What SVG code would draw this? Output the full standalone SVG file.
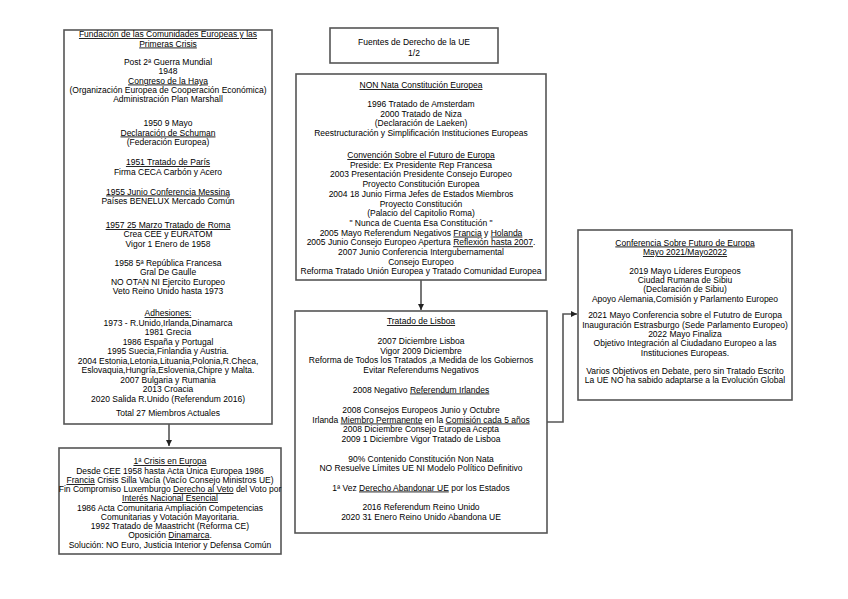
<svg xmlns="http://www.w3.org/2000/svg" width="848" height="599" viewBox="0 0 848 599">
<style>
.box{fill:#fff;stroke:#555;stroke-width:1.6}
.t{font-family:"Liberation Sans",Arial,sans-serif;font-size:8.5px;fill:#000;text-anchor:middle}
.u{text-decoration:underline}
.conn{fill:none;stroke:#555;stroke-width:1.6}
</style>
<defs>
<marker id="arr" viewBox="0 0 10 10" refX="10" refY="5" markerWidth="6" markerHeight="6" markerUnits="userSpaceOnUse" orient="auto">
<path d="M0,0 L10,5 L0,10 z" fill="#222"/>
</marker>
</defs>
<rect width="848" height="599" fill="#fff"/>

<g id="connectors">
<path class="conn" d="M169,424 V446" marker-end="url(#arr)"/>
<path class="conn" d="M421,280 V310" marker-end="url(#arr)"/>
<path class="conn" d="M547,422 H563 V314 H577" marker-end="url(#arr)"/>
</g>

<g id="fundacion">
<rect class="box" x="64" y="30" width="208" height="394"/>
<text class="t" x="168" y="37"><tspan class="u">Fundación de las Comunidades Europeas y las</tspan></text>
<text class="t" x="168" y="46.5"><tspan class="u">Primeras Crisis</tspan></text>
<text class="t" x="168" y="64.5">Post 2ª Guerra Mundial</text>
<text class="t" x="168" y="74">1948</text>
<text class="t" x="168" y="83.5"><tspan class="u">Congreso de la Haya</tspan></text>
<text class="t" x="168" y="93">(Organización Europea de Cooperación Económica)</text>
<text class="t" x="168" y="102">Administración Plan Marshall</text>
<text class="t" x="168" y="126">1950 9 Mayo</text>
<text class="t" x="168" y="135.5"><tspan class="u">Declaración de Schuman</tspan></text>
<text class="t" x="168" y="145">(Federación Europea)</text>
<text class="t" x="168" y="165"><tspan class="u">1951 Tratado de París</tspan></text>
<text class="t" x="168" y="174.5">Firma CECA Carbón y Acero</text>
<text class="t" x="168" y="194.5"><tspan class="u">1955 Junio Conferencia Messina</tspan></text>
<text class="t" x="168" y="204">Países BENELUX Mercado Común</text>
<text class="t" x="168" y="228"><tspan class="u">1957 25 Marzo Tratado de Roma</tspan></text>
<text class="t" x="168" y="237">Crea CEE y EURATOM</text>
<text class="t" x="168" y="246.5">Vigor 1 Enero de 1958</text>
<text class="t" x="168" y="266">1958 5ª República Francesa</text>
<text class="t" x="168" y="275">Gral De Gaulle</text>
<text class="t" x="168" y="284.5">NO OTAN NI Ejercito Europeo</text>
<text class="t" x="168" y="294">Veto Reino Unido hasta 1973</text>
<text class="t" x="168" y="316"><tspan class="u">Adhesiones:</tspan></text>
<text class="t" x="168" y="325.5">1973 - R.Unido,Irlanda,Dinamarca</text>
<text class="t" x="168" y="335">1981 Grecia</text>
<text class="t" x="168" y="344.5">1986 España y Portugal</text>
<text class="t" x="168" y="354">1995 Suecia,Finlandia y Austria.</text>
<text class="t" x="168" y="363.5">2004 Estonia,Letonia,Lituania,Polonia,R.Checa,</text>
<text class="t" x="168" y="373">Eslovaquia,Hungría,Eslovenia,Chipre y Malta.</text>
<text class="t" x="168" y="382.5">2007 Bulgaria y Rumania</text>
<text class="t" x="168" y="392">2013 Croacia</text>
<text class="t" x="168" y="401.5">2020 Salida R.Unido (Referendum 2016)</text>
<text class="t" x="168" y="416">Total 27 Miembros Actuales</text>
</g>

<g id="crisis">
<rect class="box" x="59" y="448" width="222" height="106"/>
<text class="t" x="170" y="464"><tspan class="u">1ª Crisis en Europa</tspan></text>
<text class="t" x="170" y="473.5">Desde CEE 1958 hasta Acta Única Europea 1986</text>
<text class="t" x="170" y="483"><tspan class="u">Francia</tspan> Crisis Silla Vacía (Vacío Consejo Ministros UE)</text>
<text class="t" x="170" y="492">Fin Compromiso Luxemburgo <tspan class="u">Derecho al Veto</tspan> del Voto por</text>
<text class="t" x="170" y="501"><tspan class="u">Interés Nacional Esencial</tspan></text>
<text class="t" x="170" y="510.5">1986 Acta Comunitaria Ampliación Competencias</text>
<text class="t" x="170" y="519.5">Comunitarias y Votación Mayoritaria.</text>
<text class="t" x="170" y="529">1992 Tratado de Maastricht (Reforma CE)</text>
<text class="t" x="170" y="538">Oposición <tspan class="u">Dinamarca</tspan>.</text>
<text class="t" x="170" y="547.5">Solución: NO Euro, Justicia Interior y Defensa Común</text>
</g>

<g id="fuentes">
<rect class="box" x="330" y="28" width="168" height="35"/>
<text class="t" x="414" y="45">Fuentes de Derecho de la UE</text>
<text class="t" x="414" y="56">1/2</text>
</g>

<g id="nonnata">
<rect class="box" x="296" y="74" width="250" height="206"/>
<text class="t" x="421" y="88"><tspan class="u">NON Nata Constitución Europea</tspan></text>
<text class="t" x="421" y="107">1996 Tratado de Amsterdam</text>
<text class="t" x="421" y="116.5">2000 Tratado de Niza</text>
<text class="t" x="421" y="126">(Declaración de Laeken)</text>
<text class="t" x="421" y="135.5">Reestructuración y Simplificación Instituciones Europeas</text>
<text class="t" x="421" y="158"><tspan class="u">Convención Sobre el Futuro de Europa</tspan></text>
<text class="t" x="421" y="167.7">Preside: Ex Presidente Rep Francesa</text>
<text class="t" x="421" y="177.4">2003 Presentación Presidente Consejo Europeo</text>
<text class="t" x="421" y="187.1">Proyecto Constitución Europea</text>
<text class="t" x="421" y="196.8">2004 18 Junio Firma Jefes de Estados Miembros</text>
<text class="t" x="421" y="206.5">Proyecto Constitución</text>
<text class="t" x="421" y="216.2">(Palacio del Capitolio Roma)</text>
<text class="t" x="421" y="225.9">" Nunca de Cuenta Esa Constitución "</text>
<text class="t" x="421" y="235.6">2005 Mayo Referendum Negativos <tspan class="u">Francia</tspan> y <tspan class="u">Holanda</tspan></text>
<text class="t" x="421" y="245.3">2005 Junio Consejo Europeo Apertura <tspan class="u">Reflexión hasta 2007</tspan>.</text>
<text class="t" x="421" y="255">2007 Junio Conferencia Intergubernamental</text>
<text class="t" x="421" y="264.7">Consejo Europeo</text>
<text class="t" x="421" y="274.4">Reforma Tratado Unión Europea y Tratado Comunidad Europea</text>
</g>

<g id="lisboa">
<rect class="box" x="295" y="311" width="252" height="222"/>
<text class="t" x="421" y="324"><tspan class="u">Tratado de Lisboa</tspan></text>
<text class="t" x="421" y="344">2007 Diciembre Lisboa</text>
<text class="t" x="421" y="353.5">Vigor 2009 Diciembre</text>
<text class="t" x="421" y="363">Reforma de Todos los Tratados ,a Medida de los Gobiernos</text>
<text class="t" x="421" y="372.5">Evitar Referendums Negativos</text>
<text class="t" x="421" y="392.5">2008 Negativo <tspan class="u">Referendum Irlandes</tspan></text>
<text class="t" x="421" y="413">2008 Consejos Europeos Junio y Octubre</text>
<text class="t" x="421" y="422.5">Irlanda <tspan class="u">Miembro Permanente</tspan> en la <tspan class="u">Comisión cada 5 años</tspan></text>
<text class="t" x="421" y="432">2008 Diciembre Consejo Europea Acepta</text>
<text class="t" x="421" y="441.5">2009 1 Diciembre Vigor Tratado de Lisboa</text>
<text class="t" x="421" y="461.5">90% Contenido Constitución Non Nata</text>
<text class="t" x="421" y="471">NO Resuelve Límites UE NI Modelo Político Definitivo</text>
<text class="t" x="421" y="490.5">1ª Vez <tspan class="u">Derecho Abandonar UE</tspan> por los Estados</text>
<text class="t" x="421" y="510">2016 Referendum Reino Unido</text>
<text class="t" x="421" y="519.5">2020 31 Enero Reino Unido Abandona UE</text>
</g>

<g id="conferencia">
<rect class="box" x="578" y="230" width="214" height="170"/>
<text class="t" x="685" y="245.5"><tspan class="u">Conferencia Sobre Futuro de Europa</tspan></text>
<text class="t" x="685" y="255"><tspan class="u">Mayo 2021/Mayo2022</tspan></text>
<text class="t" x="685" y="273.5">2019 Mayo Líderes Europeos</text>
<text class="t" x="685" y="283">Ciudad Rumana de Sibiu</text>
<text class="t" x="685" y="292.3">(Declaración de Sibiu)</text>
<text class="t" x="685" y="301.6">Apoyo Alemania,Comisión y Parlamento Europeo</text>
<text class="t" x="685" y="318.3">2021 Mayo Conferencia sobre el Fututro de Europa</text>
<text class="t" x="685" y="327.6">Inauguración Estrasburgo (Sede Parlamento Europeo)</text>
<text class="t" x="685" y="336.9">2022 Mayo Finaliza</text>
<text class="t" x="685" y="346.2">Objetivo Integración al Ciudadano Europeo a las</text>
<text class="t" x="685" y="355.5">Instituciones Europeas.</text>
<text class="t" x="685" y="374">Varios Objetivos en Debate, pero sin Tratado Escrito</text>
<text class="t" x="685" y="383.3">La UE NO ha sabido adaptarse a la Evolución Global</text>
</g>
</svg>
